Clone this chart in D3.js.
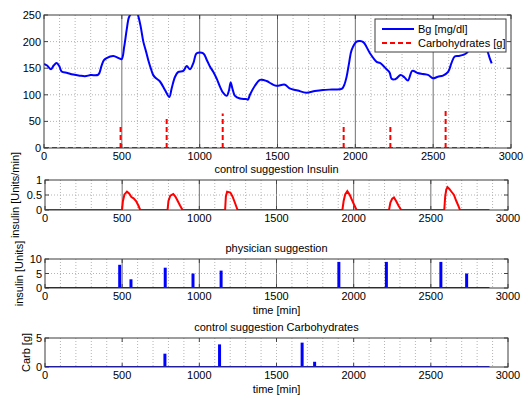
<!DOCTYPE html>
<html><head>
<meta charset="utf-8">
<title>Bg</title>
<style>
body{margin:0;background:#fff}
text{font-family:"Liberation Sans",Arial,sans-serif;font-size:11px;fill:#000}
</style>
</head>
<body>
<script src="https://d3js.org/d3.v7.min.js"></script>
<script>
// blood glucose
var bgTime  = [0,20,45,62,81,98,113,150,188,230,263,300,349,370,385,402,445,480,499,515,531,545,559,575,590,602,620,638,655,670,688,702,720,745,777,805,820,842,863,895,917,938,960,981,1023,1045,1066,1088,1110,1131,1150,1174,1188,1199,1212,1227,1259,1298,1310,1323,1355,1388,1430,1460,1492,1548,1578,1630,1685,1740,1792,1850,1912,1928,1944,1960,1976,2008,2030,2051,2072,2094,2137,2158,2201,2220,2233,2252,2265,2291,2315,2338,2366,2400,2435,2470,2499,2530,2563,2596,2618,2638,2665,2692,2713,2750,2790,2820,2846,2862,2876];
var bgValue = [158,155,148,155,160,154,144,141,138,136,135,137,138,155,165,169,173,169,167,190,222,245,253,262,262,252,230,200,182,165,148,137,131,125,109,96,112,134,143,145,154,148,160,178,178,166,153,143,130,115,104,98,108,123,110,98,93,92,91,100,117,128,126,121,117,119,112,108,104,107,109,110,111,118,134,160,184,200,201,199,190,178,162,160,148,142,130,129,131,137,133,127,145,141,139,137,131,134,136,143,160,172,173,175,178,192,198,197,184,170,159];
// carbohydrates (meals)
var carbTime  = [492,788,1148,1925,2225,2580];
var carbValue = [45,56,65,46,43,70];
// control suggestion insulin
var insTime  = [0,499,505,515,531,545,560,574,590,605,617,794,800,812,831,845,860,875,891,1167,1172,1180,1201,1215,1230,1248,1927,1935,1945,1959,1975,1990,2005,2019,2229,2238,2250,2261,2275,2290,2308,2587,2593,2600,2608,2620,2635,2650,2665,2680,2689,2880];
var insValue = [0,0,0.3,0.52,0.61,0.55,0.43,0.39,0.3,0.15,0,0,0.3,0.48,0.53,0.45,0.3,0.15,0,0,0.45,0.61,0.58,0.45,0.25,0,0,0.3,0.52,0.63,0.5,0.32,0.15,0,0,0.25,0.38,0.42,0.3,0.15,0,0,0.45,0.68,0.76,0.7,0.6,0.5,0.3,0.12,0,0];
// physician suggestion
var physTime  = [484,557,779,959,1141,1904,2212,2565,2732];
var physValue = [8,3,7,5,6,9,9,9,5];
// control suggestion carbohydrates
var ccTime  = [777,1131,1666,1747];
var ccValue = [2.3,3.9,4.2,0.9];

var xTicks = [0,500,1000,1500,2000,2500,3000];
var tEnd = 2880;

var svg = d3.select("body").append("svg").attr("width",526).attr("height",396);

function panel(cfg){
  var x = d3.scaleLinear().domain([0,3000]).range([cfg.left,cfg.right]);
  var y = d3.scaleLinear().domain(cfg.ydom).range([cfg.bottom,cfg.top]);
  var g = svg.append("g");
  var cid = "clip"+cfg.id;
  svg.append("clipPath").attr("id",cid).append("rect")
    .attr("x",cfg.left).attr("y",cfg.top).attr("width",cfg.right-cfg.left).attr("height",cfg.bottom-cfg.top);
  // minor vertical grid
  g.selectAll(".vg").data(d3.range(100,3000,100).filter(function(d){return d%500!=0 || !cfg.solid;}))
    .enter().append("line")
    .attr("x1",x).attr("x2",x).attr("y1",cfg.top).attr("y2",cfg.bottom)
    .attr("stroke","#b4b4b4").attr("stroke-dasharray","1,2");
  if(cfg.solid){
    g.selectAll(".vs").data([500,1000,1500,2000,2500]).enter().append("line")
      .attr("x1",x).attr("x2",x).attr("y1",cfg.top).attr("y2",cfg.bottom)
      .attr("stroke","#707070").attr("stroke-width",1);
  }
  g.selectAll(".hg").data(cfg.ygrid).enter().append("line")
    .attr("x1",cfg.left).attr("x2",cfg.right).attr("y1",y).attr("y2",y)
    .attr("stroke","#b4b4b4").attr("stroke-dasharray","1,2");
  // ticks inside
  var tl = 4;
  xTicks.forEach(function(t){
    g.append("line").attr("x1",x(t)).attr("x2",x(t)).attr("y1",cfg.bottom).attr("y2",cfg.bottom-tl).attr("stroke","#444");
    g.append("line").attr("x1",x(t)).attr("x2",x(t)).attr("y1",cfg.top).attr("y2",cfg.top+tl).attr("stroke","#444");
  });
  cfg.yticks.forEach(function(v){
    g.append("line").attr("x1",cfg.left).attr("x2",cfg.left+tl).attr("y1",y(v)).attr("y2",y(v)).attr("stroke","#444");
    g.append("line").attr("x1",cfg.right).attr("x2",cfg.right-tl).attr("y1",y(v)).attr("y2",y(v)).attr("stroke","#444");
  });
  g.selectAll(".xl").data(xTicks).enter().append("text")
    .attr("x",x).attr("y",cfg.bottom+12).attr("text-anchor","middle").text(function(d){return d;});
  g.selectAll(".yl").data(cfg.yticks).enter().append("text")
    .attr("x",cfg.left-3).attr("y",function(d){return y(d)+4;}).attr("text-anchor","end").text(function(d){return d;});
  var plot = svg.append("g").attr("clip-path","url(#"+cid+")");
  svg.append("rect").attr("x",cfg.left).attr("y",cfg.top)
    .attr("width",cfg.right-cfg.left).attr("height",cfg.bottom-cfg.top)
    .attr("fill","none").attr("stroke","#3c3c3c").attr("stroke-width",1);
  if(cfg.title) svg.append("text").attr("x",(cfg.left+cfg.right)/2).attr("y",cfg.top-7)
    .attr("text-anchor","middle").text(cfg.title);
  if(cfg.ylabel) svg.append("text")
    .attr("transform","translate("+cfg.ylx+","+((cfg.top+cfg.bottom)/2)+") rotate(-90)")
    .attr("text-anchor","middle").text(cfg.ylabel);
  if(cfg.xlabel) svg.append("text").attr("x",(cfg.left+cfg.right)/2).attr("y",cfg.bottom+26)
    .attr("text-anchor","middle").text(cfg.xlabel);
  return {x:x,y:y,plot:plot};
}

var stepLine = function(p){return d3.line().x(function(d){return p.x(d[0]);}).y(function(d){return p.y(d[1]);});};

// panel 1
var p1 = panel({id:1,left:44,right:511,top:15,bottom:148,ydom:[0,250],yticks:[0,50,100,150,200,250],ygrid:[50,100,150,200],solid:true});
var bgLine = d3.line().x(function(d){return p1.x(d[0]);}).y(function(d){return p1.y(d[1]);}).curve(d3.curveCatmullRom);
p1.plot.append("path").datum(d3.zip(bgTime,bgValue)).attr("d",bgLine)
  .attr("fill","none").attr("stroke","#0000ff").attr("stroke-width",2);
// carbs: dashed baseline plus one dashed stem per meal
p1.plot.append("line").attr("x1",p1.x(0)).attr("x2",p1.x(tEnd)).attr("y1",p1.y(0)).attr("y2",p1.y(0))
  .attr("stroke","#ff0000").attr("stroke-width",2).attr("stroke-dasharray","5,3");
p1.plot.selectAll(".carb").data(d3.zip(carbTime,carbValue)).enter().append("line")
  .attr("x1",function(d){return p1.x(d[0]);}).attr("x2",function(d){return p1.x(d[0]);})
  .attr("y1",p1.y(0)).attr("y2",function(d){return p1.y(d[1]);})
  .attr("stroke","#ff0000").attr("stroke-width",2).attr("stroke-dasharray","5,3");

// legend
var lg = svg.append("g");
lg.append("rect").attr("x",375).attr("y",19).attr("width",131).attr("height",33)
  .attr("fill","#fff").attr("stroke","#3c3c3c");
lg.append("line").attr("x1",382).attr("x2",414).attr("y1",29).attr("y2",29).attr("stroke","#0000ff").attr("stroke-width",2);
lg.append("line").attr("x1",382).attr("x2",414).attr("y1",43).attr("y2",43).attr("stroke","#ff0000").attr("stroke-width",2).attr("stroke-dasharray","5,3");
lg.append("text").attr("x",418).attr("y",33).text("Bg [mg/dl]");
lg.append("text").attr("x",418).attr("y",47).text("Carbohydrates [g]");

// panel 2
var p2 = panel({id:2,left:45,right:508,top:180,bottom:210,ydom:[0,1],yticks:[0,0.5,1],ygrid:[0.5],solid:true,
  title:"control suggestion Insulin",ylabel:"insulin [Units/min]",ylx:19});
p2.plot.append("path").datum(d3.zip(insTime,insValue)).attr("d",stepLine(p2))
  .attr("fill","none").attr("stroke","#ff0000").attr("stroke-width",2);

// panel 3
var p3 = panel({id:3,left:45,right:508,top:259,bottom:288,ydom:[0,10],yticks:[0,5,10],ygrid:[5],solid:true,
  title:"physician suggestion",ylabel:"insulin [Units]",ylx:23,xlabel:"time [min]"});
p3.plot.append("line").attr("x1",p3.x(0)).attr("x2",p3.x(tEnd)).attr("y1",p3.y(0)).attr("y2",p3.y(0))
  .attr("stroke","#0000ff").attr("stroke-width",2);
p3.plot.selectAll(".bar").data(d3.zip(physTime,physValue)).enter().append("line")
  .attr("x1",function(d){return p3.x(d[0]);}).attr("x2",function(d){return p3.x(d[0]);})
  .attr("y1",p3.y(0)).attr("y2",function(d){return p3.y(d[1]);})
  .attr("stroke","#0000ff").attr("stroke-width",3);

// panel 4
var p4 = panel({id:4,left:45,right:508,top:338,bottom:367,ydom:[0,5],yticks:[0,5],ygrid:[],solid:false,
  title:"control suggestion Carbohydrates",ylabel:"Carb [g]",ylx:30,xlabel:"time [min]"});
p4.plot.append("line").attr("x1",p4.x(0)).attr("x2",p4.x(tEnd)).attr("y1",p4.y(0)).attr("y2",p4.y(0))
  .attr("stroke","#0000ff").attr("stroke-width",2);
p4.plot.selectAll(".bar").data(d3.zip(ccTime,ccValue)).enter().append("line")
  .attr("x1",function(d){return p4.x(d[0]);}).attr("x2",function(d){return p4.x(d[0]);})
  .attr("y1",p4.y(0)).attr("y2",function(d){return p4.y(d[1]);})
  .attr("stroke","#0000ff").attr("stroke-width",3);
</script>
</body></html>
